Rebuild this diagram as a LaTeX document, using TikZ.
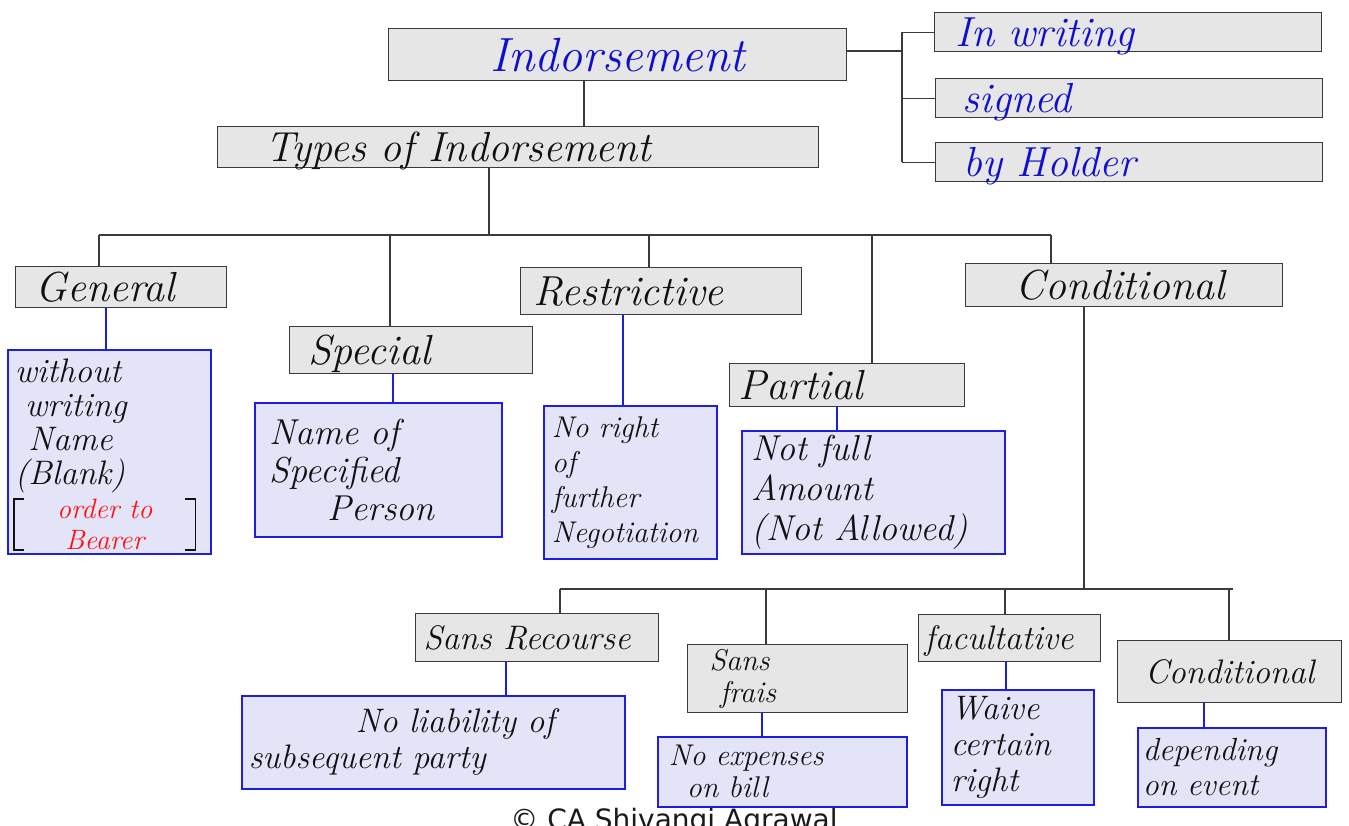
\documentclass[tikz,border=0pt]{standalone}
\usepackage{fontspec}
\usepackage{xcolor}
\usepackage{tikz}
\newfontfamily\creditfont{DejaVu Sans}
\definecolor{boxgrey}{HTML}{E6E6E6}
\definecolor{boxedge}{HTML}{3A3A3A}
\definecolor{notefill}{HTML}{E4E4F8}
\definecolor{noteedge}{HTML}{1E1EE0}
\definecolor{inkblue}{HTML}{1010CC}
\definecolor{inkred}{HTML}{FF1010}
\definecolor{inkblack}{HTML}{111111}
\definecolor{creditgrey}{HTML}{1A1A1A}

\begin{document}
\begin{tikzpicture}[x=1pt, y=-1pt,
    every node/.style={anchor=north west, inner sep=0pt, text=inkblack},
    greybox/.style={draw=boxedge, fill=boxgrey, line width=1.4pt},
    notebox/.style={draw=noteedge, fill=notefill, line width=1.6pt, align=left},
    head/.style={font=\fontsize{48}{48}\selectfont\itshape, text height=33pt, text depth=0pt},
    tag/.style={font=\fontsize{42}{42}\selectfont\itshape, text height=29pt, text depth=0pt, align=left},
    tagsmall/.style={font=\fontsize{34}{34}\selectfont\itshape, text height=23pt, text depth=0pt, align=left},
    hand/.style 2 args={font=\fontsize{#1}{#2}\selectfont\itshape},
    link/.style={draw=boxedge, line width=1.3pt},
    notelink/.style={draw=noteedge, line width=1.4pt},
    bracket/.style={draw=inkblack, line width=1.8pt}
]
\fill[white] (0,0) rectangle (1349,825);
\useasboundingbox (0,0) rectangle (1349,825);

% heading and side list
\node[greybox, head, text=inkblue, minimum width=458pt, minimum height=52pt] (indors) at (388,28) {Indorsement};
\node[greybox, tag, text=inkblue, inner xsep=21pt, text width=345pt, minimum height=39pt] (inwrit) at (934,12) {In writing};
\node[greybox, tag, text=inkblue, inner xsep=27pt, text width=333pt, minimum height=39pt] (signed) at (935,78) {signed};
\node[greybox, tag, text=inkblue, inner xsep=28pt, text width=331pt, minimum height=39pt] (byhold) at (935,142) {by Holder};
\node[greybox, tag, inner xsep=48pt, text width=505pt, minimum height=41pt] (types) at (217,126) {Types of Indorsement};

% first level
\node[greybox, tag, inner xsep=20pt, text width=171pt, minimum height=41pt] (general) at (15,266) {General};
\node[greybox, tag, inner xsep=19pt, text width=205pt, minimum height=47pt] (special) at (289,326) {Special};
\node[greybox, tag, inner xsep=13pt, text width=255pt, minimum height=47pt] (restr) at (520,267) {Restrictive};
\node[greybox, tag, inner xsep=9pt, text width=217pt, minimum height=43pt] (partial) at (729,363) {Partial};
\node[greybox, tag, inner xsep=50pt, text width=217pt, minimum height=43pt] (cond) at (965,263) {Conditional};

\node[notebox, hand={34}{34}, inner xsep=7pt, text width=189pt, text height=33pt, text depth=171pt] (general-note) at (7,349)
    {without\\ \hspace*{0.3em}writing\\ \hspace*{0.4em}Name\\ (Blank)};
\node[hand={28}{31}, text=inkred, align=center, minimum width=181pt] (bearer) at (14,499) {order to\\ Bearer};
\draw[bracket] ([xshift=10pt]bearer.north west) -| (bearer.south west) -- ([xshift=10pt]bearer.south west);
\draw[bracket] ([xshift=-10pt]bearer.north east) -| (bearer.south east) -- ([xshift=-10pt]bearer.south east);

\node[notebox, hand={36}{38}, inner xsep=15pt, text width=217pt, minimum height=134pt] (special-note) at (254,402)
    {Name of\\ Specified\\ \hspace*{1.6em}Person};
\node[notebox, hand={30}{35}, inner xsep=8pt, text width=157pt, minimum height=153pt] (restr-note) at (543,405)
    {No right\\ of\\ further\\ Negotiation};
\node[notebox, hand={36}{40}, inner xsep=10pt, text width=243pt, minimum height=123pt] (partial-note) at (741,430)
    {Not full\\ Amount\\ (Not Allowed)};

% second level (conditional)
\node[greybox, tagsmall, inner xsep=8pt, text width=227pt, minimum height=48pt] (sansrec) at (415,613) {Sans Recourse};
\node[greybox, hand={30}{32}, align=left, inner xsep=22pt, text width=176pt, minimum height=68pt] (sansfr) at (687,644)
    {Sans\\ \hspace*{0.35em}frais};
\node[greybox, tagsmall, inner xsep=6pt, text width=170pt, minimum height=47pt] (facult) at (918,614) {facultative};
\node[greybox, tagsmall, align=center, minimum width=224pt, minimum height=62pt] (cond2) at (1117,640) {Conditional};

\node[notebox, hand={34}{36}, inner xsep=7pt, text width=369pt, minimum height=93pt] (sansrec-note) at (241,695)
    {\hspace*{107pt}No liability of\\ subsequent party};
\node[notebox, hand={30}{32}, inner xsep=11pt, text width=227pt, minimum height=70pt] (sansfr-note) at (657,736)
    {No expenses\\ \hspace*{0.6em}on bill};
\node[notebox, hand={34}{36}, inner xsep=9pt, text width=134pt, minimum height=115pt] (facult-note) at (941,689)
    {Waive\\ certain\\ right};
\node[notebox, hand={32}{35}, inner xsep=5pt, text width=178pt, minimum height=79pt] (cond2-note) at (1137,727)
    {depending\\ on event};

% connectors
\coordinate (side) at (902,51);
\draw[link] (indors.east |- side) -- (side);
\draw[link] (side |- inwrit.west) -- (side |- byhold.west);
\foreach \n in {inwrit,signed,byhold}
    \draw[link] (side |- \n.west) -- (\n.west);

\coordinate (stem) at (584,0);
\draw[link] (indors.south -| stem) -- (types.north -| stem);

\coordinate (bus) at (489,235);
\draw[link] (types.south -| bus) -- (bus);
\draw[link] (bus -| 99,0) -- (bus -| 1051,0);
\foreach \n/\x in {general/99, special/390, restr/649, partial/872, cond/1051}
    \draw[link] (bus -| \x,0) -- (\n.north -| \x,0);

\coordinate (bus2) at (1084,589);
\draw[link] (cond.south -| bus2) -- (bus2);
\draw[link] (bus2 -| 560,0) -- (bus2 -| 1233,0);
\foreach \n/\x in {sansrec/560, sansfr/766, facult/1005, cond2/1229}
    \draw[link] (bus2 -| \x,0) -- (\n.north -| \x,0);

\foreach \n/\x in {general/106, special/393, restr/623, partial/837, sansrec/506, sansfr/762, facult/1006, cond2/1204}
    \draw[notelink] (\n.south -| \x,0) -- (\n-note.north -| \x,0);

\node[anchor=base, font=\creditfont\fontsize{28}{28}\selectfont, text=creditgrey] (credit) at (674,829) {© CA Shivangi Agrawal};
\end{tikzpicture}
\end{document}
